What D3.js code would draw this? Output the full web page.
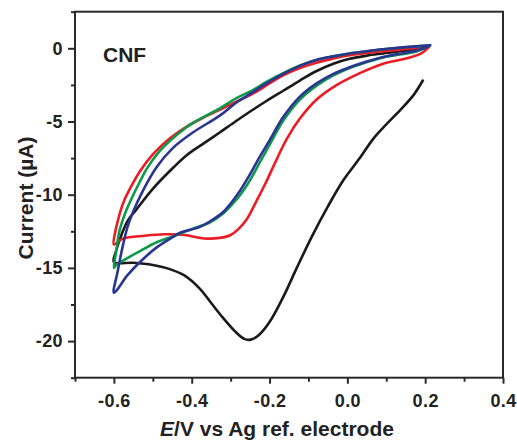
<!DOCTYPE html>
<html><head><meta charset="utf-8">
<script src="https://cdn.jsdelivr.net/npm/d3@7"></script>
<style>
html,body{margin:0;padding:0;background:#fff;}
svg{display:block;font-family:"Liberation Sans",Arial,Helvetica,sans-serif;}
</style></head>
<body>
<svg id="chart" width="517" height="440"></svg>
<script>
// ---- data (potential E in V, current I in µA), each in scan order ----
const blackE = [0.194,0.17,0.14,0.1,0.066,0.032,-0.01,-0.05,-0.09,-0.13,-0.165,-0.2,-0.228,-0.248,-0.265,-0.29,-0.32,-0.35,-0.38,-0.42,-0.46,-0.5,-0.55,-0.6,
  -0.595,-0.58,-0.565,-0.542,-0.5,-0.457,-0.413,-0.372,-0.328,-0.285,-0.243,-0.208,-0.165,-0.122,-0.079,-0.036,0.006,0.05,0.092,0.135,0.204];
const blackI = [-2.2,-3.2,-4.1,-5.2,-6.2,-7.5,-9.0,-10.8,-12.8,-15.0,-17.0,-18.7,-19.6,-19.9,-19.85,-19.3,-18.4,-17.4,-16.4,-15.5,-15.05,-14.8,-14.65,-14.6,
  -13.9,-12.7,-11.8,-11.0,-9.6,-8.4,-7.3,-6.55,-5.75,-4.95,-4.2,-3.6,-2.9,-2.2,-1.55,-1.05,-0.72,-0.5,-0.35,-0.2,0.0];

const redE = [0.21,0.19,0.15,0.092,0.032,-0.036,-0.079,-0.122,-0.156,-0.182,-0.21,-0.233,-0.259,-0.28,-0.3,-0.328,-0.36,-0.379,-0.419,-0.47,-0.52,-0.577,-0.6,
  -0.597,-0.591,-0.583,-0.572,-0.559,-0.533,-0.5,-0.456,-0.413,-0.371,-0.328,-0.285,-0.243,-0.2,-0.165,-0.122,-0.08,-0.036,0.006,0.05,0.092,0.15,0.205];
const redI = [0.1,-0.35,-0.7,-1.05,-1.7,-2.65,-3.5,-4.8,-6.2,-7.6,-9.2,-10.4,-11.7,-12.35,-12.75,-12.95,-13.0,-12.95,-12.75,-12.7,-12.8,-13.0,-13.4,
  -12.6,-11.9,-11.1,-10.3,-9.6,-8.4,-7.25,-6.15,-5.35,-4.75,-4.2,-3.65,-3.1,-2.4,-1.85,-1.35,-0.98,-0.7,-0.48,-0.32,-0.2,-0.05,0.08];

const greenE = [0.21,0.18,0.117,0.092,0.032,0.006,-0.036,-0.079,-0.122,-0.165,-0.2,-0.225,-0.25,-0.275,-0.294,-0.32,-0.354,-0.4,-0.449,-0.49,-0.533,-0.57,-0.594,-0.6,
  -0.595,-0.585,-0.567,-0.55,-0.535,-0.515,-0.482,-0.438,-0.397,-0.328,-0.285,-0.243,-0.208,-0.165,-0.122,-0.08,-0.036,0.006,0.05,0.092,0.15,0.21];
const greenI = [0.18,-0.2,-0.5,-0.62,-1.1,-1.35,-1.85,-2.55,-3.5,-4.95,-6.6,-7.8,-9.0,-10.0,-10.6,-11.3,-11.9,-12.35,-12.85,-13.25,-13.85,-14.4,-14.8,-15.0,
  -14.0,-12.4,-11.0,-10.0,-9.2,-8.2,-7.0,-5.9,-5.1,-4.1,-3.4,-2.85,-2.3,-1.7,-1.18,-0.8,-0.55,-0.35,-0.2,-0.07,0.07,0.18];

const blueE = [0.213,0.18,0.117,0.092,0.032,0.006,-0.036,-0.079,-0.122,-0.165,-0.2,-0.225,-0.25,-0.275,-0.294,-0.32,-0.346,-0.379,-0.43,-0.449,-0.49,-0.533,-0.565,-0.6,
  -0.59,-0.578,-0.565,-0.552,-0.525,-0.49,-0.448,-0.397,-0.328,-0.285,-0.243,-0.208,-0.165,-0.122,-0.08,-0.036,0.006,0.05,0.092,0.15,0.213];
const blueI = [0.2,-0.14,-0.45,-0.6,-1.05,-1.3,-1.75,-2.4,-3.3,-4.7,-6.3,-7.4,-8.6,-9.7,-10.4,-11.2,-11.7,-12.2,-12.6,-12.9,-13.6,-14.6,-15.5,-16.7,
  -15.2,-13.6,-12.2,-11.25,-9.7,-8.1,-6.8,-5.75,-4.6,-3.7,-3.0,-2.4,-1.75,-1.2,-0.8,-0.55,-0.35,-0.2,-0.07,0.08,0.2];

const seriesNames = ["black","red","green","blue"];
const seriesColors = ["#1a1a1a","#ec1c24","#0c9a4a","#2a3592"];
const xTicks = [-0.6,-0.4,-0.2,0.0,0.2,0.4];
const xTickLabels = ["-0.6","-0.4","-0.2","0.0","0.2","0.4"];
const xMinor = [-0.7,-0.5,-0.3,-0.1,0.1,0.3];
const yTicks = [0,-5,-10,-15,-20];
const yTickLabels = ["0","-5","-10","-15","-20"];
const yMinor = [2.5,-2.5,-7.5,-12.5,-17.5,-22.5];
const xDomain = [-0.7,0.4];
const yDomain = [-22.5,2.5];
const panelLabel = "CNF";
const yTitle = "Current (\u00B5A)";

// ---- drawing ----
const svg = d3.select("#chart");
const L = 75, R = 503, T = 11.7, B = 377.7;
const x = d3.scaleLinear().domain(xDomain).range([L, R]);
const y = d3.scaleLinear().domain(yDomain).range([B, T]);
const axisColor = "#2a2a2a";

const seriesData = [
  d3.zip(blackE, blackI), d3.zip(redE, redI), d3.zip(greenE, greenI), d3.zip(blueE, blueI)
];
const line = d3.line().x(d => x(d[0])).y(d => y(d[1])).curve(d3.curveCatmullRom.alpha(0.5));

svg.append("g").selectAll("path").data(seriesData).join("path")
  .attr("d", line)
  .attr("fill", "none")
  .attr("stroke", (d, i) => seriesColors[i])
  .attr("stroke-width", 2.6)
  .attr("stroke-linejoin", "round")
  .attr("stroke-linecap", "round");

// frame
svg.append("rect").attr("x", L).attr("y", T).attr("width", R - L).attr("height", B - T)
  .attr("fill", "none").attr("stroke", axisColor).attr("stroke-width", 2);

function styleAxis(g) {
  g.select(".domain").remove();
  g.selectAll(".tick line").attr("stroke", axisColor).attr("stroke-width", 2);
  g.selectAll(".tick text").attr("fill", "#222").attr("font-weight", "bold")
    .attr("font-size", 18).attr("letter-spacing", 0.4);
}
// x axis
svg.append("g").attr("transform", `translate(0,${B})`)
  .call(d3.axisBottom(x).tickValues(xTicks).tickSize(6).tickPadding(11)
    .tickFormat((d, i) => xTickLabels[i]))
  .call(styleAxis);
svg.append("g").attr("transform", `translate(0,${B})`)
  .call(d3.axisBottom(x).tickValues(xMinor).tickSize(4).tickFormat(""))
  .call(styleAxis);
// y axis
svg.append("g").attr("transform", `translate(${L},0)`)
  .call(d3.axisLeft(y).tickValues(yTicks).tickSize(7).tickPadding(5)
    .tickFormat((d, i) => yTickLabels[i]))
  .call(styleAxis);
svg.append("g").attr("transform", `translate(${L},0)`)
  .call(d3.axisLeft(y).tickValues(yMinor).tickSize(4).tickFormat(""))
  .call(styleAxis);

// panel label
svg.append("text").attr("x", 103).attr("y", 62)
  .attr("font-size", 21).attr("font-weight", "bold").attr("fill", "#222").text(panelLabel);

// x title
const xt = svg.append("text").attr("x", 277).attr("y", 436).attr("text-anchor", "middle")
  .attr("font-size", 21).attr("font-weight", "bold").attr("fill", "#222");
xt.append("tspan").attr("font-style", "italic").text("E");
xt.append("tspan").text("/V vs Ag ref. electrode");

// y title
svg.append("text").attr("transform", "translate(33,198) rotate(-90)").attr("text-anchor", "middle")
  .attr("font-size", 21).attr("font-weight", "bold").attr("fill", "#222").text(yTitle);
</script>
</body></html>
